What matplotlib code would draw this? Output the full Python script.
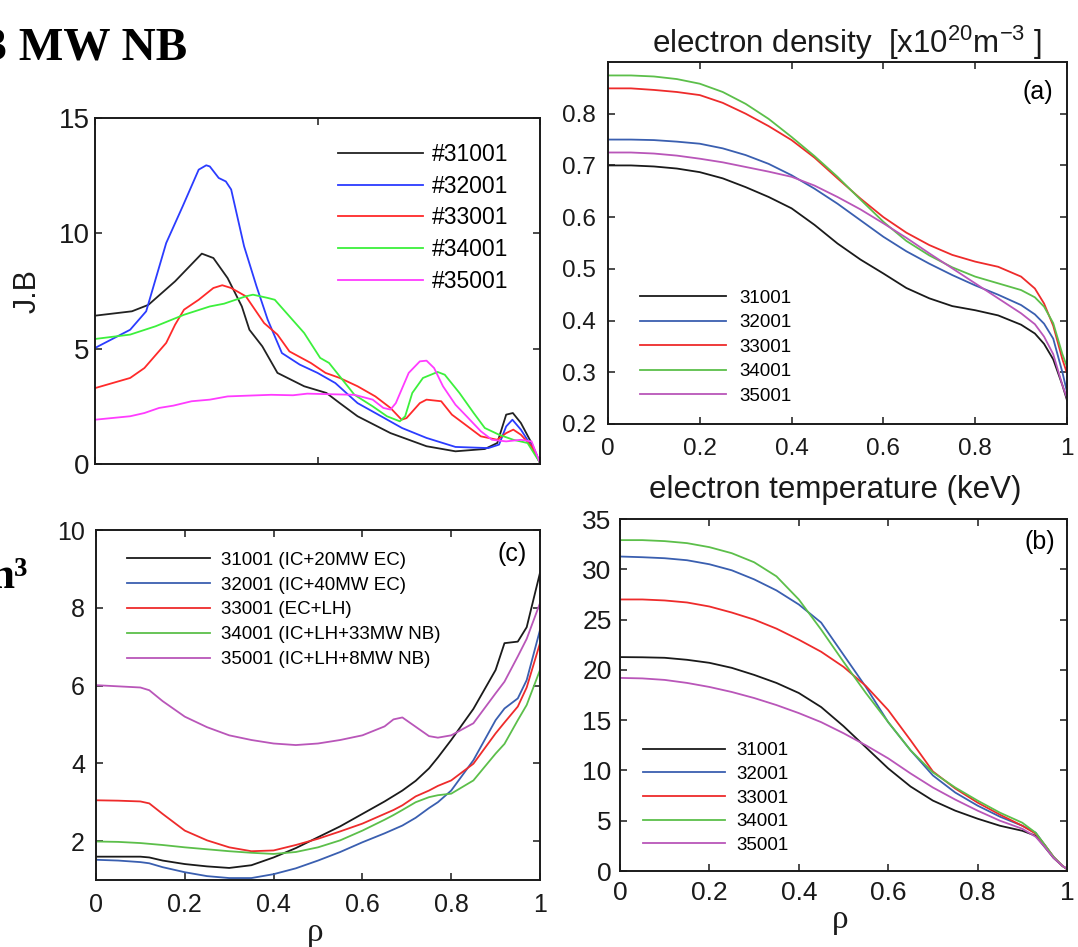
#! /usr/bin/python
#
# Four panel profile comparison: J.B, density, temperature and (c) profile
#

import matplotlib
matplotlib.use('Agg')
import matplotlib.pyplot as plt

plt.rcParams['font.family'] = ['Liberation Sans', 'DejaVu Sans']
plt.rcParams['mathtext.fontset'] = 'custom'
plt.rcParams['mathtext.rm'] = 'Liberation Sans'
plt.rcParams['mathtext.it'] = 'Liberation Sans:italic'

# ---------------- data ----------------
shots = ['31001', '32001', '33001', '34001', '35001']
shots_c = ['31001 (IC+20MW EC)', '32001 (IC+40MW EC)', '33001 (EC+LH)',
           '34001 (IC+LH+33MW NB)', '35001 (IC+LH+8MW NB)']

# J.B panel (top left), each shot has its own rho samples
jb_rho = {
    '31001': [0, .083, .12, .18, .24, .266, .298, .33, .347, .376, .41, .47, .52, .55, .59, .664,
              .745, .81, .876, .904, .924, .939, .957, .981, 1.0],
    '32001': [0, .079, .115, .16, .197, .233, .25, .258, .278, .294, .306, .335, .363, .388, .42,
              .46, .5, .54, .59, .63, .69, .745, .81, .884, .908, .924, .938, .957, .981, 1.0],
    '33001': [0, .079, .111, .16, .18, .2, .233, .266, .286, .306, .339, .38, .41, .437, .485, .518,
              .55, .59, .63, .664, .689, .7, .73, .745, .778, .802, .827, .867, .904, .924, .94,
              .957, .981, 1.0],
    '34001': [0, .079, .136, .2, .258, .29, .339, .355, .388, .404, .437, .47, .506, .526, .55, .583,
              .624, .656, .685, .697, .713, .737, .77, .786, .819, .851, .876, .908, .94, .972, 1.0],
    '35001': [0, .079, .111, .144, .176, .217, .258, .298, .339, .396, .445, .477, .518, .583, .624,
              .648, .664, .676, .705, .73, .745, .762, .782, .81, .835, .867, .892, .924, .957,
              .981, 1.0],
}
jb_val = {
    '31001': [6.43, 6.62, 6.9, 7.92, 9.12, 8.93, 8.06, 6.83, 5.82, 5.1, 3.95, 3.37, 3.08, 2.64,
              2.07, 1.34, .77, .55, .65, .91, 2.14, 2.21, 1.78, .91, .05],
    '32001': [5.03, 5.82, 6.62, 9.58, 11.17, 12.76, 12.95, 12.9, 12.4, 12.25, 11.9, 9.44, 7.7,
              6.26, 4.81, 4.31, 3.95, 3.51, 2.64, 2.21, 1.56, 1.13, .74, .69, .84, 1.63, 1.92,
              1.49, .77, .05],
    '33001': [3.29, 3.73, 4.16, 5.25, 6.04, 6.69, 7.12, 7.63, 7.75, 7.63, 7.27, 6.11, 5.61, 4.88,
              4.38, 3.95, 3.73, 3.37, 2.93, 2.43, 1.92, 1.99, 2.64, 2.79, 2.72, 2.14, 1.78, 1.2,
              1.05, 1.34, 1.49, 1.27, .77, .05],
    '34001': [5.42, 5.61, 5.97, 6.47, 6.83, 6.95, 7.27, 7.34, 7.2, 7.12, 6.4, 5.68, 4.6, 4.38,
              3.8, 3.0, 2.5, 2.07, 1.85, 2.07, 3.08, 3.73, 3.99, 3.87, 3.08, 2.21, 1.56, 1.27,
              1.05, .91, .05],
    '35001': [1.92, 2.07, 2.21, 2.43, 2.53, 2.72, 2.79, 2.93, 2.96, 3.0, 2.98, 3.05, 3.03, 3.0,
              2.79, 2.43, 2.36, 2.64, 3.95, 4.45, 4.48, 4.16, 3.37, 2.57, 2.07, 1.42, 1.05, .98,
              1.05, .98, .05],
}

# electron density (a)
rho_a = [0, .05, .1, .15, .2, .25, .3, .35, .4, .45, .5, .55, .6, .65, .7, .75, .8, .85, .9,
         .93, .95, .97, .99, 1.0]
ne = {
    '31001': [.700, .700, .698, .694, .687, .675, .658, .639, .617, .585, .549, .518, .491, .463,
              .443, .428, .420, .410, .392, .375, .355, .325, .275, .246],
    '32001': [.750, .750, .749, .746, .742, .733, .720, .703, .681, .655, .626, .594, .562, .534,
              .510, .488, .468, .450, .430, .412, .394, .365, .300, .262],
    '33001': [.849, .849, .846, .842, .836, .821, .800, .776, .749, .715, .675, .636, .600, .570,
              .546, .527, .514, .504, .485, .462, .433, .390, .325, .298],
    '34001': [.874, .874, .872, .867, .858, .842, .819, .790, .755, .718, .678, .634, .591, .554,
              .526, .503, .485, .472, .459, .445, .427, .395, .335, .311],
    '35001': [.725, .725, .723, .719, .713, .706, .697, .688, .678, .661, .639, .615, .588, .560,
              .530, .501, .472, .443, .414, .393, .369, .335, .275, .250],
}

# electron temperature (b)
rho_b = [0, .05, .1, .15, .2, .25, .3, .35, .4, .45, .5, .55, .6, .65, .7, .75, .8, .85, .9,
         .93, .95, .97, .99, 1.0]
te = {
    '31001': [21.27, 21.25, 21.2, 21.0, 20.7, 20.2, 19.5, 18.7, 17.7, 16.3, 14.4, 12.3, 10.2, 8.4,
              7.0, 6.0, 5.2, 4.5, 4.0, 3.5, 2.4, 1.3, .5, .2],
    '32001': [31.27, 31.2, 31.1, 30.9, 30.5, 29.9, 29.0, 27.9, 26.5, 24.7, 21.5, 18.3, 14.8, 12.0,
              9.5, 7.8, 6.5, 5.4, 4.5, 3.8, 2.6, 1.4, .5, .2],
    '33001': [27.0, 27.0, 26.9, 26.7, 26.3, 25.7, 25.0, 24.1, 23.0, 21.8, 20.3, 18.4, 16.0, 13.0,
              9.9, 8.2, 6.8, 5.6, 4.5, 3.7, 2.6, 1.4, .5, .2],
    '34001': [32.9, 32.9, 32.8, 32.6, 32.2, 31.6, 30.7, 29.3, 27.0, 24.0, 20.8, 17.7, 14.8, 12.0,
              9.8, 8.3, 7.0, 5.8, 4.8, 3.8, 2.6, 1.4, .5, .2],
    '35001': [19.2, 19.15, 19.0, 18.7, 18.3, 17.8, 17.2, 16.5, 15.7, 14.8, 13.7, 12.5, 11.2, 9.7,
              8.3, 7.1, 6.0, 5.0, 4.2, 3.4, 2.4, 1.3, .5, .2],
}

# panel (c)
rho_c = [0, .05, .1, .12, .15, .2, .25, .3, .35, .4, .45, .5, .55, .6, .65, .67, .69, .72, .75,
         .77, .8, .85, .9, .92, .95, .97, 1.0]
pc = {
    '31001': [1.6, 1.6, 1.6, 1.58, 1.5, 1.41, 1.35, 1.31, 1.38, 1.58, 1.82, 2.1, 2.38, 2.7, 3.02,
              3.16, 3.3, 3.55, 3.87, 4.15, 4.6, 5.4, 6.4, 7.09, 7.13, 7.5, 8.9],
    '32001': [1.52, 1.5, 1.46, 1.43, 1.33, 1.2, 1.1, 1.05, 1.05, 1.15, 1.3, 1.5, 1.72, 1.97, 2.2,
              2.3, 2.4, 2.6, 2.85, 3.0, 3.3, 4.08, 5.11, 5.41, 5.67, 6.14, 7.43],
    '33001': [3.05, 3.04, 3.02, 2.97, 2.7, 2.27, 2.02, 1.84, 1.74, 1.76, 1.9, 2.06, 2.25, 2.45,
              2.7, 2.8, 2.92, 3.15, 3.3, 3.42, 3.56, 3.99, 4.77, 5.05, 5.46, 5.95, 7.09],
    '34001': [1.99, 1.98, 1.95, 1.93, 1.9, 1.84, 1.79, 1.74, 1.7, 1.67, 1.72, 1.84, 2.02, 2.27,
              2.55, 2.67, 2.8, 3.0, 3.13, 3.18, 3.22, 3.56, 4.25, 4.5, 5.11, 5.5, 6.4],
    '35001': [6.01, 5.98, 5.95, 5.88, 5.6, 5.2, 4.93, 4.72, 4.6, 4.51, 4.47, 4.51, 4.6, 4.72,
              4.95, 5.13, 5.18, 4.94, 4.7, 4.66, 4.72, 5.03, 5.8, 6.1, 6.75, 7.2, 8.12],
}

# colours: bright set for J.B, muted set for the other panels
col_jb = ['#222222', '#2b3cff', '#ff2a2a', '#3cf03c', '#ff3cff']
col = ['#1a1a1a', '#3a5fb0', '#ee2b2b', '#5cbf4a', '#b956b9']

W, H = 1078, 947


# axes box from pixel edges
def box(l, t, r, b):
    return [l / W, 1 - b / H, (r - l) / W, (b - t) / H]


def style(ax, fs, xpad, ypad):
    for s in ax.spines.values():
        s.set_linewidth(1.4)
        s.set_color('#1a1a1a')
    ax.tick_params(direction='in', top=True, right=True, length=5, width=1.1,
                   labelsize=fs, colors='#1a1a1a')
    ax.tick_params(axis='x', pad=xpad)
    ax.tick_params(axis='y', pad=ypad)


def main():
    fig = plt.figure(figsize=(W / 100, H / 100), dpi=100)

    # ---- J.B (top left)
    ax = fig.add_axes(box(95, 118, 540, 464))
    for i, s in enumerate(shots):
        ax.plot(jb_rho[s], jb_val[s], color=col_jb[i], lw=1.3, label='#' + s)
    ax.set_xlim(0, 1)
    ax.set_ylim(0, 15)
    ax.set_xticks([0, 0.5, 1])
    ax.set_xticklabels([])
    ax.set_yticks([0, 5, 10, 15])
    style(ax, 20, 6, 4)
    ax.legend(loc='upper left', bbox_to_anchor=(0.546, 0.928), frameon=False, fontsize=16.5,
              handlelength=3.7, handletextpad=0.4, labelspacing=0.38, borderpad=0,
              borderaxespad=0)

    # ---- electron density (a)
    ax = fig.add_axes(box(608, 62, 1067, 424))
    for i, s in enumerate(shots):
        ax.plot(rho_a, ne[s], color=col[i], lw=1.3, label=s)
    ax.set_xlim(0, 1)
    ax.set_ylim(0.2, 0.9)
    ax.set_yticks([0.2, 0.3, 0.4, 0.5, 0.6, 0.7, 0.8])
    ax.set_xticks([0, 0.2, 0.4, 0.6, 0.8, 1])
    ax.set_xticklabels(['0', '0.2', '0.4', '0.6', '0.8', '1'])
    style(ax, 17.5, 10, 9)
    ax.text(0.97, 0.917, '(a)', transform=ax.transAxes, ha='right', va='center', fontsize=18)
    ax.legend(loc='upper left', bbox_to_anchor=(0.07, 0.371), frameon=False, fontsize=13.5,
              handlelength=4.6, handletextpad=0.7, labelspacing=0.39, borderpad=0,
              borderaxespad=0)

    # ---- panel (c) (bottom left)
    ax = fig.add_axes(box(96, 530, 540, 880))
    for i, s in enumerate(shots):
        ax.plot(rho_c, pc[s], color=col[i], lw=1.3, label=shots_c[i])
    ax.set_xlim(0, 1)
    ax.set_ylim(1, 10)
    ax.set_yticks([2, 4, 6, 8, 10])
    ax.set_xticks([0, 0.2, 0.4, 0.6, 0.8, 1])
    ax.set_xticklabels(['0', '0.2', '0.4', '0.6', '0.8', '1'])
    style(ax, 18, 9, 8)
    ax.text(0.971, 0.931, '(c)', transform=ax.transAxes, ha='right', va='center', fontsize=18)
    ax.legend(loc='upper left', bbox_to_anchor=(0.07, 0.938), frameon=False, fontsize=13.5,
              handlelength=4.4, handletextpad=0.6, labelspacing=0.41, borderpad=0,
              borderaxespad=0)

    # ---- electron temperature (b)
    ax = fig.add_axes(box(620, 519, 1067, 871))
    for i, s in enumerate(shots):
        ax.plot(rho_b, te[s], color=col[i], lw=1.3, label=s)
    ax.set_xlim(0, 1)
    ax.set_ylim(0, 35)
    ax.set_yticks(range(0, 36, 5))
    ax.set_xticks([0, 0.2, 0.4, 0.6, 0.8, 1])
    ax.set_xticklabels(['0', '0.2', '0.4', '0.6', '0.8', '1'])
    style(ax, 19, 7, 6)
    ax.text(0.973, 0.935, '(b)', transform=ax.transAxes, ha='right', va='center', fontsize=18)
    ax.legend(loc='upper left', bbox_to_anchor=(0.051, 0.366), frameon=False, fontsize=13.5,
              handlelength=4.4, handletextpad=0.6, labelspacing=0.35, borderpad=0,
              borderaxespad=0)

    # ---- titles and loose labels
    fig.text(652 / W, 1 - 53 / H, 'electron density  [x10$^{20}$m$^{-3}$ ]', fontsize=22.5,
             ha='left', va='baseline', color='#1a1a1a')
    fig.text(835 / W, 1 - 498 / H, 'electron temperature (keV)', fontsize=22.5,
             ha='center', va='baseline', color='#1a1a1a')
    fig.text(28 / W, 1 - 291 / H, 'J.B', rotation=90, fontsize=22, ha='center', va='center',
             color='#1a1a1a')
    fig.text(315 / W, 1 - 941 / H, '\u03c1', fontsize=24, ha='center', va='baseline',
             family='Liberation Serif', color='#1a1a1a')
    fig.text(840 / W, 1 - 928 / H, '\u03c1', fontsize=24, ha='center', va='baseline',
             family='Liberation Serif', color='#1a1a1a')

    # cut-off headings from the neighbouring figure
    fig.text(187 / W, 1 - 59 / H, '33 MW NB', fontsize=34, fontweight='bold', ha='right',
             va='baseline', family='Liberation Serif')
    fig.text(28 / W, 1 - 588 / H, 'm\u00b3', fontsize=32, fontweight='bold', ha='right',
             va='baseline', family='Liberation Serif')

    fig.savefig('out.png', dpi=100)


if __name__ == '__main__':
    main()
